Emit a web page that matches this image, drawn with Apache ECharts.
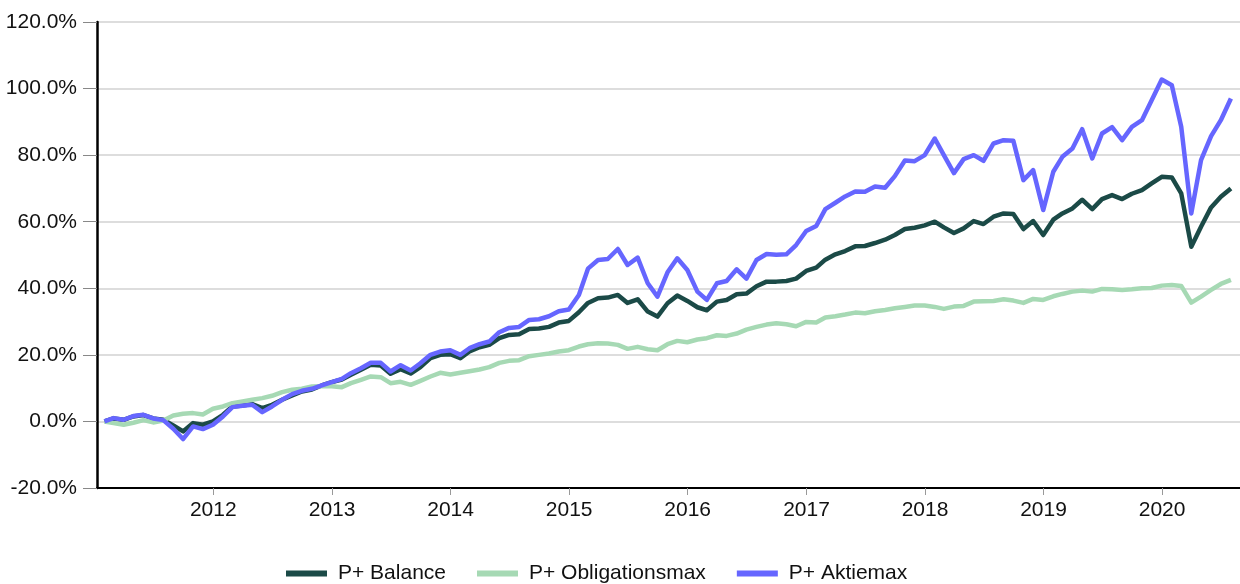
<!DOCTYPE html>
<html>
<head>
<meta charset="utf-8">
<script src="https://cdn.jsdelivr.net/npm/echarts@6/dist/echarts.min.js"></script>
<style>
  html, body { margin: 0; padding: 0; background: #fff; }
  #main { width: 1240px; height: 584px; }
</style>
</head>
<body>
<div id="main"></div>
<script>
// Monthly returns (in %), Jan 2011 to Jul 2020
const seriesNames = ['P+ Balance', 'P+ Obligationsmax', 'P+ Aktiemax'];
const seriesColors = ['#1b4a47', '#a6d9b4', '#6666ff'];

const balance = [
  0, 0.9, 0.5, 1.5, 1.9, 0.9, 0.5, -1.2, -3.0, -0.5, -1.0, 0.0,
  2.0, 4.5, 4.8, 5.2, 4.0, 5.0, 6.5, 7.8, 9.0, 9.6, 10.8, 11.8,
  12.6, 14.0, 15.5, 17.0, 16.8, 14.3, 15.7, 14.4, 16.3, 19.0, 20.0, 20.2,
  19.0, 21.0, 22.3, 23.0, 25.0, 26.0, 26.2, 27.8, 27.9, 28.4, 29.7, 30.2,
  32.8, 35.6, 37.0, 37.2, 38.0, 35.6, 36.7, 33.0, 31.5, 35.5, 37.8, 36.2,
  34.3, 33.4, 36.0, 36.5, 38.2, 38.4, 40.6, 42.0, 42.0, 42.2, 42.9, 45.2,
  46.2, 48.6, 50.2, 51.2, 52.6, 52.7, 53.6, 54.6, 56.0, 57.8, 58.2, 58.9,
  60.0, 58.3, 56.6, 58.0, 60.2, 59.3, 61.5, 62.5, 62.3, 57.8, 60.2, 56.0,
  60.6, 62.5, 64.0, 66.6, 63.8, 66.8, 68.0, 66.8, 68.4, 69.5, 71.5, 73.5,
  73.3, 68.5, 52.5, 58.5, 64.3, 67.5, 70.0
];

const obligationsmax = [
  0, -0.5, -1.0, -0.4, 0.4, -0.3, 0.3, 1.8, 2.3, 2.5, 2.1, 3.8,
  4.5, 5.5, 6.0, 6.5, 7.0, 7.7, 8.8, 9.5, 9.8, 10.5, 10.6, 10.6,
  10.3, 11.5, 12.5, 13.5, 13.3, 11.5, 11.9, 11.0, 12.2, 13.5, 14.6, 14.1,
  14.6, 15.1, 15.6, 16.3, 17.6, 18.2, 18.4, 19.6, 20.0, 20.4, 21.0, 21.4,
  22.5, 23.2, 23.5, 23.4, 23.0, 21.8, 22.4, 21.7, 21.4, 23.2, 24.2, 23.8,
  24.6, 25.0, 25.9, 25.7, 26.4, 27.6, 28.4, 29.1, 29.5, 29.2, 28.6, 29.9,
  29.7, 31.2, 31.6, 32.1, 32.7, 32.5, 33.1, 33.5, 34.0, 34.4, 34.8, 34.8,
  34.4, 33.8, 34.5, 34.7, 36.0, 36.1, 36.2, 36.7, 36.3, 35.6, 36.8, 36.5,
  37.6, 38.3, 39.0, 39.3, 39.0, 39.8, 39.7, 39.5, 39.7, 40.0, 40.1, 40.8,
  41.0, 40.7, 35.7, 37.5, 39.5, 41.3, 42.5
];

const aktiemax = [
  0, 1.0, 0.5, 1.6, 2.0, 0.9, 0.4, -2.2, -5.3, -1.5, -2.3, -1.0,
  1.5, 4.3, 4.7, 5.0, 2.8, 4.5, 6.5, 8.2, 9.2, 9.8, 10.8, 11.8,
  12.8, 14.5, 16.0, 17.6, 17.6, 15.0, 16.9, 15.3, 17.5, 20.0, 21.0, 21.4,
  20.0, 22.0, 23.2, 24.0, 26.8, 28.1, 28.4, 30.5, 30.7, 31.6, 33.1, 33.6,
  38.0, 45.9, 48.5, 48.8, 51.8, 47.0, 49.2, 41.5, 37.5, 44.8, 49.0, 45.5,
  39.0, 36.5, 41.5, 42.2, 45.7, 42.9, 48.5, 50.3, 50.1, 50.2, 53.0, 57.2,
  58.7, 63.8, 65.7, 67.6, 69.1, 69.0, 70.6, 70.2, 73.7, 78.4, 78.2, 80.0,
  85.0, 80.0, 74.6, 78.8, 80.0, 78.3, 83.5, 84.5, 84.3, 72.5, 75.5, 63.5,
  75.0, 79.5, 82.0, 87.8, 79.0, 86.5, 88.4, 84.5, 88.5, 90.5, 96.5, 102.7,
  101.0, 88.5, 62.5, 78.5, 85.7, 90.5, 97.0
];

// month-end dates, one per value
const startYear = 2011;
const dates = balance.map(function (v, i) {
  const d = new Date(startYear, i + 1, 0);
  const mm = String(d.getMonth() + 1).padStart(2, '0');
  const dd = String(d.getDate()).padStart(2, '0');
  return d.getFullYear() + '-' + mm + '-' + dd;
});

const allValues = [balance, obligationsmax, aktiemax];

const YEAR_MS = 365 * 24 * 3600 * 1000;

var chartDom = document.getElementById('main');
var myChart = echarts.init(chartDom);

var option = {
  animation: false,
  grid: {
    left: 97,
    right: 0,
    top: 22,
    bottom: 96,
    containLabel: false
  },
  legend: {
    left: 281,
    top: 558,
    icon: 'rect',
    itemWidth: 41,
    itemHeight: 6,
    itemGap: 31,
    textStyle: {
      fontFamily: 'Liberation Sans, Arial, sans-serif',
      fontSize: 21,
      color: '#111',
      padding: [0, 0, 0, 6]
    },
    data: seriesNames
  },
  xAxis: {
    type: 'time',
    min: '2011-01-08',
    max: '2020-08-28',
    splitNumber: 9,
    minInterval: YEAR_MS,
    maxInterval: YEAR_MS * 1.01,
    axisLine: { onZero: false, lineStyle: { color: '#000', width: 2 } },
    axisTick: { show: true, length: 7, lineStyle: { color: '#999', width: 1 } },
    splitLine: { show: false },
    axisLabel: {
      margin: 12,
      fontFamily: 'Liberation Sans, Arial, sans-serif',
      fontSize: 21,
      color: '#111',
      formatter: function (value) {
        return String(new Date(value).getFullYear());
      }
    }
  },
  yAxis: {
    type: 'value',
    min: -20,
    max: 120,
    interval: 20,
    axisLine: { show: true, lineStyle: { color: '#000', width: 2.5 } },
    axisTick: { show: true, length: 14, lineStyle: { color: '#888', width: 1 } },
    splitLine: { show: true, lineStyle: { color: '#dddddd', width: 2 } },
    axisLabel: {
      margin: 20,
      fontFamily: 'Liberation Sans, Arial, sans-serif',
      fontSize: 21,
      color: '#111',
      formatter: function (v) {
        return v.toFixed(1) + '%';
      }
    }
  },
  series: seriesNames.map(function (name, k) {
    return {
      name: name,
      type: 'line',
      showSymbol: false,
      symbol: 'none',
      color: seriesColors[k],
      lineStyle: { width: 4.5, color: seriesColors[k], join: 'round' },
      data: dates.map(function (d, i) { return [d, allValues[k][i]]; })
    };
  })
};

myChart.setOption(option);
</script>
</body>
</html>
